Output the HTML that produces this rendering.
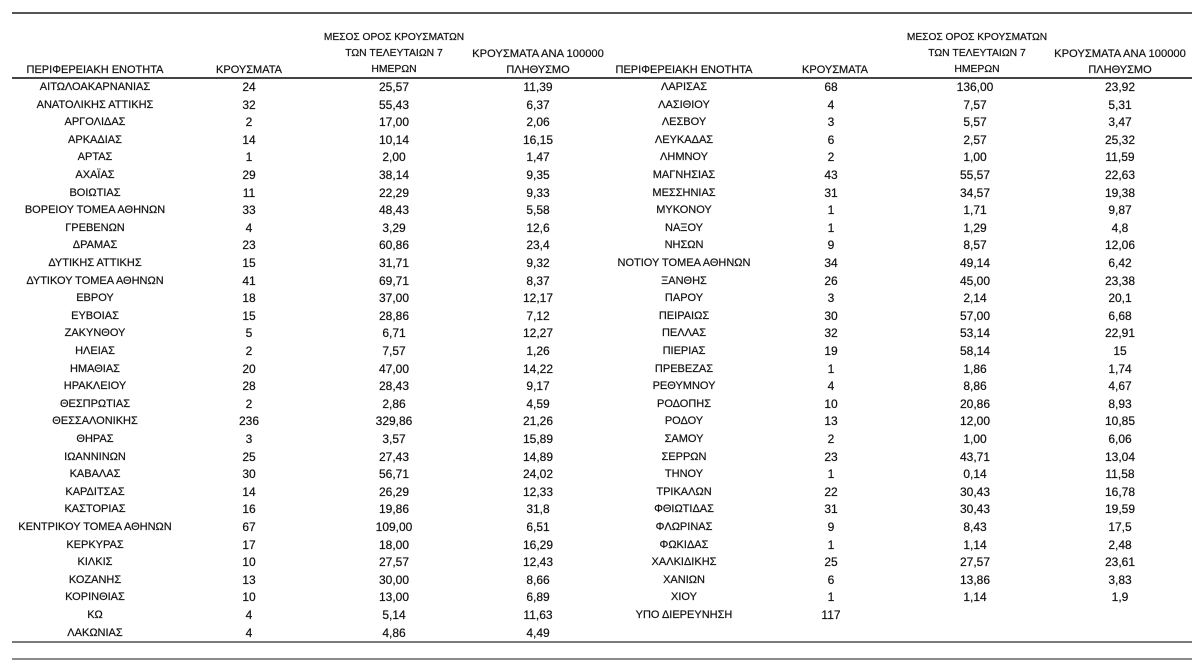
<!DOCTYPE html>
<html>
<head>
<meta charset="utf-8">
<style>
html,body{margin:0;padding:0;background:#fff;}
body{width:1200px;height:668px;position:relative;overflow:hidden;font-family:"Liberation Sans","DejaVu Sans",sans-serif;color:#111;-webkit-text-stroke:0.2px #111;}
.ln{position:absolute;left:12px;width:1180px;}
.h{position:absolute;text-align:center;white-space:nowrap;line-height:16px;}
.r{position:absolute;left:0;width:1200px;height:17.6px;}
.r span{position:absolute;top:0;text-align:center;white-space:nowrap;line-height:17.6px;font-size:12px;}
.r .a,.r .e{font-size:11px;}
.a{left:15px;width:160px;}
.b{left:209px;width:80px;}
.c{left:344px;width:100px;}
.d{left:488px;width:100px;}
.e{left:604px;width:160px;}
.f{left:791px;width:80px;}
.g{left:925px;width:100px;}
.h2{left:1070px;width:100px;}
</style>
</head>
<body>
<div class="ln" style="top:12px;height:2px;background:#555;"></div>
<div class="ln" style="top:77px;height:1.5px;background:#444;"></div>
<div class="ln" style="top:640.5px;height:2px;background:#7a7a7a;"></div>
<div class="ln" style="top:658px;height:2px;background:#8a8a8a;"></div>

<!-- left headers -->
<div class="h" style="left:0;width:190px;top:62px;font-size:11px;">ΠΕΡΙΦΕΡΕΙΑΚΗ ΕΝΟΤΗΤΑ</div>
<div class="h" style="left:199px;width:100px;top:62px;font-size:11px;">ΚΡΟΥΣΜΑΤΑ</div>
<div class="h" style="left:314px;width:160px;top:30px;font-size:10.2px;">ΜΕΣΟΣ ΟΡΟΣ ΚΡΟΥΣΜΑΤΩΝ</div>
<div class="h" style="left:314px;width:160px;top:46px;font-size:10.4px;">ΤΩΝ ΤΕΛΕΥΤΑΙΩΝ 7</div>
<div class="h" style="left:314px;width:160px;top:62px;font-size:10.4px;">ΗΜΕΡΩΝ</div>
<div class="h" style="left:458px;width:160px;top:46px;font-size:11.2px;">ΚΡΟΥΣΜΑΤΑ ΑΝΑ 100000</div>
<div class="h" style="left:458px;width:160px;top:62px;font-size:11px;">ΠΛΗΘΥΣΜΟ</div>

<!-- right headers -->
<div class="h" style="left:589px;width:190px;top:62px;font-size:11px;">ΠΕΡΙΦΕΡΕΙΑΚΗ ΕΝΟΤΗΤΑ</div>
<div class="h" style="left:785px;width:100px;top:62px;font-size:11px;">ΚΡΟΥΣΜΑΤΑ</div>
<div class="h" style="left:897px;width:160px;top:30px;font-size:10.2px;">ΜΕΣΟΣ ΟΡΟΣ ΚΡΟΥΣΜΑΤΩΝ</div>
<div class="h" style="left:897px;width:160px;top:46px;font-size:10.4px;">ΤΩΝ ΤΕΛΕΥΤΑΙΩΝ 7</div>
<div class="h" style="left:897px;width:160px;top:62px;font-size:10.4px;">ΗΜΕΡΩΝ</div>
<div class="h" style="left:1040px;width:160px;top:46px;font-size:11.2px;">ΚΡΟΥΣΜΑΤΑ ΑΝΑ 100000</div>
<div class="h" style="left:1040px;width:160px;top:62px;font-size:11px;">ΠΛΗΘΥΣΜΟ</div>

<div class="r" style="top:78.9px"><span class="a">ΑΙΤΩΛΟΑΚΑΡΝΑΝΙΑΣ</span><span class="b">24</span><span class="c">25,57</span><span class="d">11,39</span><span class="e">ΛΑΡΙΣΑΣ</span><span class="f">68</span><span class="g">136,00</span><span class="h2">23,92</span></div>
<div class="r" style="top:96.5px"><span class="a">ΑΝΑΤΟΛΙΚΗΣ ΑΤΤΙΚΗΣ</span><span class="b">32</span><span class="c">55,43</span><span class="d">6,37</span><span class="e">ΛΑΣΙΘΙΟΥ</span><span class="f">4</span><span class="g">7,57</span><span class="h2">5,31</span></div>
<div class="r" style="top:114.1px"><span class="a">ΑΡΓΟΛΙΔΑΣ</span><span class="b">2</span><span class="c">17,00</span><span class="d">2,06</span><span class="e">ΛΕΣΒΟΥ</span><span class="f">3</span><span class="g">5,57</span><span class="h2">3,47</span></div>
<div class="r" style="top:131.7px"><span class="a">ΑΡΚΑΔΙΑΣ</span><span class="b">14</span><span class="c">10,14</span><span class="d">16,15</span><span class="e">ΛΕΥΚΑΔΑΣ</span><span class="f">6</span><span class="g">2,57</span><span class="h2">25,32</span></div>
<div class="r" style="top:149.3px"><span class="a">ΑΡΤΑΣ</span><span class="b">1</span><span class="c">2,00</span><span class="d">1,47</span><span class="e">ΛΗΜΝΟΥ</span><span class="f">2</span><span class="g">1,00</span><span class="h2">11,59</span></div>
<div class="r" style="top:166.9px"><span class="a">ΑΧΑΪΑΣ</span><span class="b">29</span><span class="c">38,14</span><span class="d">9,35</span><span class="e">ΜΑΓΝΗΣΙΑΣ</span><span class="f">43</span><span class="g">55,57</span><span class="h2">22,63</span></div>
<div class="r" style="top:184.5px"><span class="a">ΒΟΙΩΤΙΑΣ</span><span class="b">11</span><span class="c">22,29</span><span class="d">9,33</span><span class="e">ΜΕΣΣΗΝΙΑΣ</span><span class="f">31</span><span class="g">34,57</span><span class="h2">19,38</span></div>
<div class="r" style="top:202.1px"><span class="a">ΒΟΡΕΙΟΥ ΤΟΜΕΑ ΑΘΗΝΩΝ</span><span class="b">33</span><span class="c">48,43</span><span class="d">5,58</span><span class="e">ΜΥΚΟΝΟΥ</span><span class="f">1</span><span class="g">1,71</span><span class="h2">9,87</span></div>
<div class="r" style="top:219.7px"><span class="a">ΓΡΕΒΕΝΩΝ</span><span class="b">4</span><span class="c">3,29</span><span class="d">12,6</span><span class="e">ΝΑΞΟΥ</span><span class="f">1</span><span class="g">1,29</span><span class="h2">4,8</span></div>
<div class="r" style="top:237.3px"><span class="a">ΔΡΑΜΑΣ</span><span class="b">23</span><span class="c">60,86</span><span class="d">23,4</span><span class="e">ΝΗΣΩΝ</span><span class="f">9</span><span class="g">8,57</span><span class="h2">12,06</span></div>
<div class="r" style="top:254.9px"><span class="a">ΔΥΤΙΚΗΣ ΑΤΤΙΚΗΣ</span><span class="b">15</span><span class="c">31,71</span><span class="d">9,32</span><span class="e">ΝΟΤΙΟΥ ΤΟΜΕΑ ΑΘΗΝΩΝ</span><span class="f">34</span><span class="g">49,14</span><span class="h2">6,42</span></div>
<div class="r" style="top:272.5px"><span class="a">ΔΥΤΙΚΟΥ ΤΟΜΕΑ ΑΘΗΝΩΝ</span><span class="b">41</span><span class="c">69,71</span><span class="d">8,37</span><span class="e">ΞΑΝΘΗΣ</span><span class="f">26</span><span class="g">45,00</span><span class="h2">23,38</span></div>
<div class="r" style="top:290.1px"><span class="a">ΕΒΡΟΥ</span><span class="b">18</span><span class="c">37,00</span><span class="d">12,17</span><span class="e">ΠΑΡΟΥ</span><span class="f">3</span><span class="g">2,14</span><span class="h2">20,1</span></div>
<div class="r" style="top:307.7px"><span class="a">ΕΥΒΟΙΑΣ</span><span class="b">15</span><span class="c">28,86</span><span class="d">7,12</span><span class="e">ΠΕΙΡΑΙΩΣ</span><span class="f">30</span><span class="g">57,00</span><span class="h2">6,68</span></div>
<div class="r" style="top:325.3px"><span class="a">ΖΑΚΥΝΘΟΥ</span><span class="b">5</span><span class="c">6,71</span><span class="d">12,27</span><span class="e">ΠΕΛΛΑΣ</span><span class="f">32</span><span class="g">53,14</span><span class="h2">22,91</span></div>
<div class="r" style="top:342.9px"><span class="a">ΗΛΕΙΑΣ</span><span class="b">2</span><span class="c">7,57</span><span class="d">1,26</span><span class="e">ΠΙΕΡΙΑΣ</span><span class="f">19</span><span class="g">58,14</span><span class="h2">15</span></div>
<div class="r" style="top:360.5px"><span class="a">ΗΜΑΘΙΑΣ</span><span class="b">20</span><span class="c">47,00</span><span class="d">14,22</span><span class="e">ΠΡΕΒΕΖΑΣ</span><span class="f">1</span><span class="g">1,86</span><span class="h2">1,74</span></div>
<div class="r" style="top:378.1px"><span class="a">ΗΡΑΚΛΕΙΟΥ</span><span class="b">28</span><span class="c">28,43</span><span class="d">9,17</span><span class="e">ΡΕΘΥΜΝΟΥ</span><span class="f">4</span><span class="g">8,86</span><span class="h2">4,67</span></div>
<div class="r" style="top:395.7px"><span class="a">ΘΕΣΠΡΩΤΙΑΣ</span><span class="b">2</span><span class="c">2,86</span><span class="d">4,59</span><span class="e">ΡΟΔΟΠΗΣ</span><span class="f">10</span><span class="g">20,86</span><span class="h2">8,93</span></div>
<div class="r" style="top:413.3px"><span class="a">ΘΕΣΣΑΛΟΝΙΚΗΣ</span><span class="b">236</span><span class="c">329,86</span><span class="d">21,26</span><span class="e">ΡΟΔΟΥ</span><span class="f">13</span><span class="g">12,00</span><span class="h2">10,85</span></div>
<div class="r" style="top:430.9px"><span class="a">ΘΗΡΑΣ</span><span class="b">3</span><span class="c">3,57</span><span class="d">15,89</span><span class="e">ΣΑΜΟΥ</span><span class="f">2</span><span class="g">1,00</span><span class="h2">6,06</span></div>
<div class="r" style="top:448.5px"><span class="a">ΙΩΑΝΝΙΝΩΝ</span><span class="b">25</span><span class="c">27,43</span><span class="d">14,89</span><span class="e">ΣΕΡΡΩΝ</span><span class="f">23</span><span class="g">43,71</span><span class="h2">13,04</span></div>
<div class="r" style="top:466.1px"><span class="a">ΚΑΒΑΛΑΣ</span><span class="b">30</span><span class="c">56,71</span><span class="d">24,02</span><span class="e">ΤΗΝΟΥ</span><span class="f">1</span><span class="g">0,14</span><span class="h2">11,58</span></div>
<div class="r" style="top:483.7px"><span class="a">ΚΑΡΔΙΤΣΑΣ</span><span class="b">14</span><span class="c">26,29</span><span class="d">12,33</span><span class="e">ΤΡΙΚΑΛΩΝ</span><span class="f">22</span><span class="g">30,43</span><span class="h2">16,78</span></div>
<div class="r" style="top:501.3px"><span class="a">ΚΑΣΤΟΡΙΑΣ</span><span class="b">16</span><span class="c">19,86</span><span class="d">31,8</span><span class="e">ΦΘΙΩΤΙΔΑΣ</span><span class="f">31</span><span class="g">30,43</span><span class="h2">19,59</span></div>
<div class="r" style="top:518.9px"><span class="a">ΚΕΝΤΡΙΚΟΥ ΤΟΜΕΑ ΑΘΗΝΩΝ</span><span class="b">67</span><span class="c">109,00</span><span class="d">6,51</span><span class="e">ΦΛΩΡΙΝΑΣ</span><span class="f">9</span><span class="g">8,43</span><span class="h2">17,5</span></div>
<div class="r" style="top:536.5px"><span class="a">ΚΕΡΚΥΡΑΣ</span><span class="b">17</span><span class="c">18,00</span><span class="d">16,29</span><span class="e">ΦΩΚΙΔΑΣ</span><span class="f">1</span><span class="g">1,14</span><span class="h2">2,48</span></div>
<div class="r" style="top:554.1px"><span class="a">ΚΙΛΚΙΣ</span><span class="b">10</span><span class="c">27,57</span><span class="d">12,43</span><span class="e">ΧΑΛΚΙΔΙΚΗΣ</span><span class="f">25</span><span class="g">27,57</span><span class="h2">23,61</span></div>
<div class="r" style="top:571.7px"><span class="a">ΚΟΖΑΝΗΣ</span><span class="b">13</span><span class="c">30,00</span><span class="d">8,66</span><span class="e">ΧΑΝΙΩΝ</span><span class="f">6</span><span class="g">13,86</span><span class="h2">3,83</span></div>
<div class="r" style="top:589.3px"><span class="a">ΚΟΡΙΝΘΙΑΣ</span><span class="b">10</span><span class="c">13,00</span><span class="d">6,89</span><span class="e">ΧΙΟΥ</span><span class="f">1</span><span class="g">1,14</span><span class="h2">1,9</span></div>
<div class="r" style="top:606.9px"><span class="a">ΚΩ</span><span class="b">4</span><span class="c">5,14</span><span class="d">11,63</span><span class="e">ΥΠΟ ΔΙΕΡΕΥΝΗΣΗ</span><span class="f">117</span></div>
<div class="r" style="top:624.5px"><span class="a">ΛΑΚΩΝΙΑΣ</span><span class="b">4</span><span class="c">4,86</span><span class="d">4,49</span></div>
</body>
</html>
